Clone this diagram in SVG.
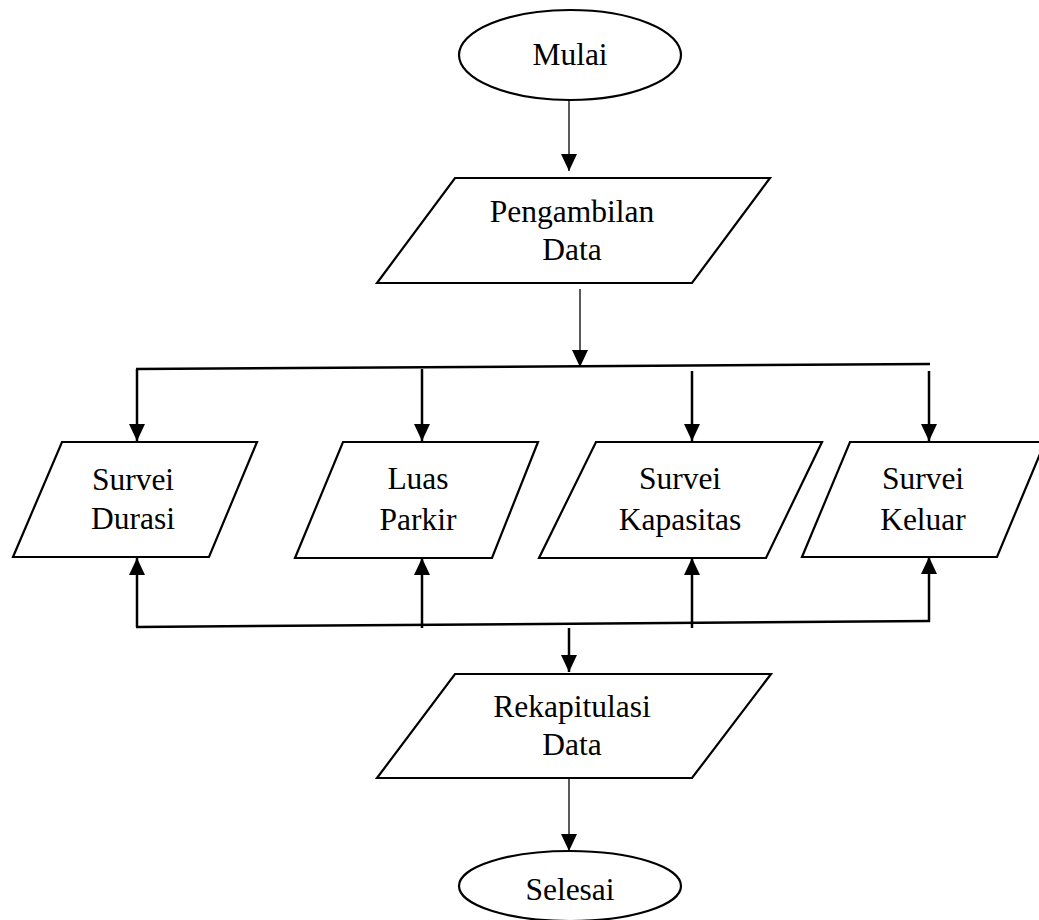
<svg xmlns="http://www.w3.org/2000/svg" width="1039" height="920" viewBox="0 0 1039 920">
<style>
.shape{fill:#fff;stroke:#000;stroke-width:2.2}
.lbl{font-family:"Liberation Serif","Times New Roman",serif;font-size:31.5px;fill:#000;text-anchor:middle}
.thin{stroke:#000;stroke-width:1.3;fill:none}
.thick{stroke:#000;stroke-width:2.5;fill:none}
</style>
<defs>
<marker id="ah" markerUnits="userSpaceOnUse" markerWidth="17" markerHeight="16" refX="17" refY="8" orient="auto">
<path d="M0,0 L17,8 L0,16 z" fill="#000"/>
</marker>
</defs>
<rect width="1039" height="920" fill="#fff"/>
<g id="connectors">
<line class="thin" x1="569" y1="100" x2="569" y2="171" marker-end="url(#ah)"/>
<line class="thin" x1="580" y1="289" x2="580" y2="367" marker-end="url(#ah)"/>
<line class="thick" x1="136" y1="369" x2="930" y2="364"/>
<line class="thick" x1="137" y1="369" x2="137" y2="441" marker-end="url(#ah)"/>
<line class="thick" x1="422" y1="369" x2="422" y2="441" marker-end="url(#ah)"/>
<line class="thick" x1="692" y1="371" x2="692" y2="441" marker-end="url(#ah)"/>
<line class="thick" x1="929" y1="371" x2="929" y2="441" marker-end="url(#ah)"/>
<line class="thick" x1="136" y1="627" x2="930" y2="621"/>
<line class="thick" x1="137" y1="627" x2="137" y2="558" marker-end="url(#ah)"/>
<line class="thick" x1="422" y1="628" x2="422" y2="558" marker-end="url(#ah)"/>
<line class="thick" x1="692" y1="628" x2="692" y2="558" marker-end="url(#ah)"/>
<line class="thick" x1="929" y1="622" x2="929" y2="557" marker-end="url(#ah)"/>
<line class="thick" x1="569" y1="628" x2="569" y2="672" marker-end="url(#ah)"/>
<line class="thin" x1="569" y1="779" x2="569" y2="851" marker-end="url(#ah)"/>
</g>
<g id="mulai">
<ellipse class="shape" cx="570" cy="55" rx="111" ry="45"/>
<text class="lbl" x="570" y="65">Mulai</text>
</g>
<g id="pengambilan">
<polygon class="shape" points="455,178 770,178 692,283 377,283"/>
<text class="lbl" x="572" y="222">Pengambilan</text>
<text class="lbl" x="572" y="260">Data</text>
</g>
<g id="durasi">
<polygon class="shape" points="62,442 257,442 209,557 13,557"/>
<text class="lbl" x="133" y="490">Survei</text>
<text class="lbl" x="133" y="529">Durasi</text>
</g>
<g id="luas">
<polygon class="shape" points="343,442 538,442 492,558 295,558"/>
<text class="lbl" x="418" y="489">Luas</text>
<text class="lbl" x="418" y="530">Parkir</text>
</g>
<g id="kapasitas">
<polygon class="shape" points="596,442 822,442 766,558 539,558"/>
<text class="lbl" x="680" y="489">Survei</text>
<text class="lbl" x="680" y="530">Kapasitas</text>
</g>
<g id="keluar">
<polygon class="shape" points="850,442 1045,442 997,557 802,557"/>
<text class="lbl" x="923" y="489">Survei</text>
<text class="lbl" x="923" y="530">Keluar</text>
</g>
<g id="rekapitulasi">
<polygon class="shape" points="455,674 771,674 692,778 377,778"/>
<text class="lbl" x="572" y="717">Rekapitulasi</text>
<text class="lbl" x="572" y="755">Data</text>
</g>
<g id="selesai">
<ellipse class="shape" cx="570" cy="886" rx="111" ry="35"/>
<text class="lbl" x="570" y="900">Selesai</text>
</g>
</svg>
